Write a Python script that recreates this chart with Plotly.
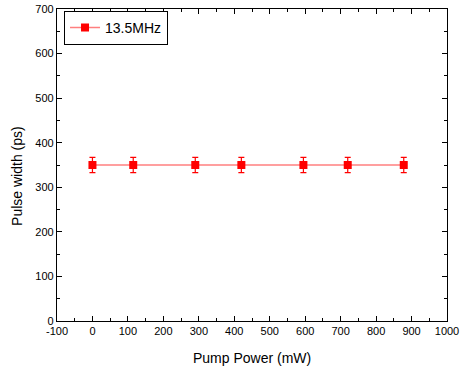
import plotly.graph_objects as go

# Pulse width vs pump power at 13.5 MHz repetition rate
pump_power = [0, 115, 290, 420, 595, 720, 878]
pulse_width = [350, 350, 350, 350, 350, 350, 350]
pulse_err = [17, 17, 17, 17, 17, 17, 17]

x_ticks = [-100, 0, 100, 200, 300, 400, 500, 600, 700, 800, 900, 1000]
y_ticks = [0, 100, 200, 300, 400, 500, 600, 700]

FONT = "Liberation Sans, Arial"

fig = go.Figure()
fig.add_trace(go.Scatter(
    x=pump_power, y=pulse_width,
    mode="lines+markers",
    name="13.5MHz",
    line=dict(color="#FF7F7F", width=1.5),
    marker=dict(symbol="square", size=8, color="#FF0000"),
    error_y=dict(type="data", array=pulse_err, color="#FF0000", thickness=1.2, width=3),
))

axis_common = dict(
    showline=True, linecolor="black", linewidth=1.3, mirror="ticks",
    ticks="inside", ticklen=5, tickwidth=1, tickcolor="black",
    showgrid=False, zeroline=False, automargin=False,
    tickfont=dict(family=FONT, size=11, color="black"),
)

fig.update_xaxes(
    range=[-100, 1000],
    tickmode="array", tickvals=x_ticks, ticktext=[str(v) for v in x_ticks],
    minor=dict(ticks="inside", dtick=50, tick0=0, ticklen=3, tickcolor="black"),
    **axis_common,
)
fig.update_yaxes(
    range=[0, 700],
    tickmode="array", tickvals=y_ticks, ticktext=[str(v) for v in y_ticks],
    minor=dict(ticks="inside", dtick=50, tick0=0, ticklen=3, tickcolor="black"),
    **axis_common,
)

# Axis titles
fig.add_annotation(
    text="Pump Power (mW)", xref="paper", yref="paper",
    x=0.5, y=-0.118, xanchor="center", yanchor="middle",
    showarrow=False, font=dict(family=FONT, size=14, color="black"),
)
fig.add_annotation(
    text="Pulse width (ps)", xref="paper", yref="paper",
    x=-0.1026, y=0.465, xanchor="center", yanchor="middle", textangle=-90,
    showarrow=False, font=dict(family=FONT, size=14, color="black"),
)

fig.update_layout(
    width=464, height=372,
    margin=dict(l=57, r=17, t=9, b=51),
    plot_bgcolor="white", paper_bgcolor="white",
    showlegend=True,
    legend=dict(
        x=0.018, y=0.994, xanchor="left", yanchor="top",
        bordercolor="black", borderwidth=1, bgcolor="white",
        font=dict(family=FONT, size=14, color="black"),
        tracegroupgap=0, itemwidth=30,
    ),
)

fig.write_html("out.html")
